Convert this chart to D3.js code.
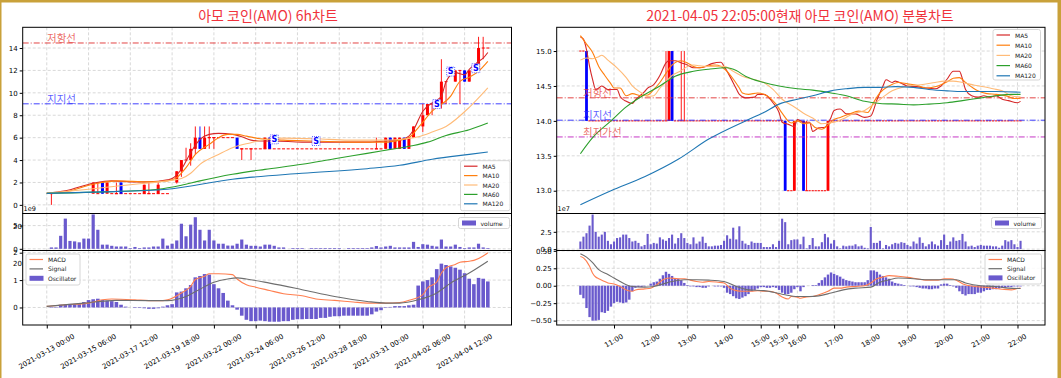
<!DOCTYPE html>
<html>
<head>
<meta charset="utf-8">
<script src="https://cdn.jsdelivr.net/npm/d3@7"></script>
<style>
body { margin: 0; background: #fff; }
svg { display: block; font-family: "DejaVu Sans", sans-serif; }
</style>
</head>
<body>
<svg id="chart" width="1061" height="378"></svg>
<script>
// ---------- left chart (6h candles, index 0 = 2021-03-13 00:00) ----------
const lTickIdx = [0, 9, 18, 27, 36, 45, 54, 63, 72, 81, 90];
const lTickLabels = ['2021-03-13 00:00','2021-03-15 06:00','2021-03-17 12:00','2021-03-19 18:00','2021-03-22 00:00',
  '2021-03-24 06:00','2021-03-26 12:00','2021-03-28 18:00','2021-03-31 00:00','2021-04-02 06:00','2021-04-04 12:00'];

const lcIdx   = [1,10,11,12,13,15,16,21,22,24,28,29,30,31,32,33,34,35,36,41,42,44,47,48,71,73,74,75,76,77,78,79,81,82,83,85,86,88,89,90,91,93,94,95];
const lcOpen  = [1,1,1,2,1,1,2,1,1,1,2,3,4,4,5,6,5,6,6,6,5,5,5,6,5,5,6,5,5,6,5,6,7,8,9,9,11,11,12,12,11,12,14,14];
const lcClose = [1,2,1,1,2,1,1,1.8,1,1.8,3,4,4,5,6,5,6,6,6,5,5,5,6,5,5,6,5,6,6,5,6,7,8,9,9,11,11,12,12,11,12,14,14,14];
const lcHigh  = [1,2,2,2,2,2,2,1.8,2,2,3,4,5.1,5.5,7,7,7,7,6,6,5,5,6,6,6,6,6,6,6,6,6,7,9,9,9,13,11,12,12,12,12,15,15,14];
const lcLow   = [0,1,1,1,1,1,1,1,1,1,1.9,2.5,4,3.5,4.5,5,5,5,5,5,4,4,5,5,5,5,5,5,5,5,5,6,6.5,8,8,8.6,9,11,9,11,11,12,13,14];
// runs of flat (open == close) candles: [first index, last index, price]
const lFlatRuns = [[14, 26, 1], [35, 40, 6], [42, 72, 5]];
const lSignals = [[49, 5.85], [58, 5.7], [84, 9.0], [87, 11.9], [92.4, 12.2]];

const lMA5   = [[0,1.04],[4,1.25],[10,1.93],[14,2.14],[19,2.05],[22,2.05],[26,2.23],[27,2.35],[29,3.18],[31,4.66],[33,5.85],[35,6.29],[37,6.38],[40,6.29],[42,6.08],[44,5.78],[46,5.7],[49,5.7],[55,5.6],[62,5.6],[69,5.6],[73,5.7],[76,5.78],[78,6.14],[79,6.7],[81,8.36],[83,9.1],[85,9.7],[86,11.0],[88,11.8],[90,11.6],[91,12.1],[93,12.8],[94,13.1],[95,13.6]];
const lMA10  = [[0,1.04],[4,1.16],[10,1.84],[15,2.14],[22,2.05],[26,2.14],[28,2.43],[30,3.32],[32,4.51],[35,5.4],[37,6.0],[39,6.29],[41,6.29],[43,6.14],[46,5.9],[51,5.78],[58,5.7],[65,5.6],[73,5.6],[76,5.78],[78,6.0],[80,6.88],[83,8.36],[87,9.7],[89,11.03],[91,11.4],[93,11.92],[95,12.8]];
const lMA20  = [[0,1.04],[9,1.4],[19,1.84],[26,2.14],[29,2.35],[31,2.82],[33,3.62],[37,4.5],[40,5.1],[44,5.55],[47,5.84],[51,5.96],[58,5.9],[65,5.78],[73,5.78],[76,5.84],[80,6.08],[83,6.5],[86,7.0],[91,8.7],[95,10.44]];
const lMA60  = [[0,1.03],[12,1.16],[24,1.4],[29,1.75],[33,2.14],[40,2.73],[47,3.17],[55,3.62],[62,4.12],[69,4.6],[74,4.95],[79,5.3],[82,5.6],[86,6.2],[91,6.7],[95,7.3]];
const lMA120 = [[0,1.03],[12,1.16],[26,1.4],[40,2.29],[55,2.82],[69,3.23],[76,3.53],[83,4.07],[91,4.51],[95,4.72]];

// volume, 1e9 units, one value per candle 0..95
const lVolume = [0,0.3,0.3,2.8,6.5,1.7,1.6,1.4,2.2,2.2,7.4,4.1,0.9,0.9,0.65,0.5,0.5,0.5,0.15,0.4,0.15,0.3,0.3,0.5,0.5,2.2,0.7,1.1,1.8,5.4,2.7,5.2,6.8,4.1,1.8,4.1,1.8,1.1,1.1,0.7,0.7,1.1,2.0,0.9,0.65,0.65,0.5,0.9,0.9,0.65,0.3,0.3,0,0.15,0.15,0.15,0,0.15,0.15,0.15,0.15,0.15,0.15,0.15,0,0.15,0.15,0.15,0.15,0.15,0.3,0.6,0.3,0.5,0.65,0.3,0.3,0.3,0.3,1.5,0.4,1.0,0.9,0.65,0.5,2.0,0.5,0.5,0.9,0.4,0.15,0.3,0.3,1.1,0.3,0.15];
// MACD oscillator, one value per candle 0..95
const lOsc = [0,0.02,0.02,0.1,0.1,0.13,0.13,0.16,0.2,0.27,0.3,0.32,0.27,0.25,0.23,0.2,0.1,0.03,0,-0.02,-0.02,-0.03,-0.05,-0.05,-0.03,0.03,0.08,0.12,0.55,0.58,0.7,0.82,1.1,1.15,1.22,1.2,0.85,0.7,0.53,0.25,0.08,-0.08,-0.3,-0.45,-0.5,-0.5,-0.48,-0.5,-0.52,-0.52,-0.52,-0.5,-0.5,-0.45,-0.43,-0.43,-0.42,-0.42,-0.42,-0.38,-0.38,-0.34,-0.32,-0.32,-0.3,-0.3,-0.3,-0.3,-0.3,-0.3,-0.25,-0.15,-0.1,-0.02,0.02,0.05,0.05,0.05,0.08,0.1,0.8,0.95,1.0,1.1,1.4,1.6,1.55,1.5,1.45,1.38,1.25,1.05,0.85,1.08,1.05,0.95];
const lMacd   = [[0,0.04],[4,0.1],[9,0.16],[12,0.28],[14,0.31],[19,0.28],[22,0.25],[25,0.25],[26,0.28],[27,0.34],[29,0.53],[31,0.77],[32,1.02],[34,1.14],[35,1.23],[37,1.23],[40,1.2],[41,1.04],[43,0.83],[45,0.74],[48,0.62],[51,0.5],[55,0.43],[58,0.31],[62,0.26],[66,0.2],[69,0.16],[73,0.16],[76,0.18],[78,0.26],[81,0.47],[82,0.71],[84,0.93],[85,1.26],[86,1.45],[88,1.57],[89,1.65],[91,1.69],[92,1.72],[94,1.88],[95,2.0]];
const lSignal = [[0,0.04],[8,0.16],[15,0.26],[22,0.25],[26,0.25],[30,0.4],[33,0.67],[36,0.92],[39,1.04],[41,1.08],[43,1.04],[48,0.89],[55,0.65],[62,0.4],[69,0.22],[73,0.16],[76,0.16],[80,0.28],[84,0.53],[87,0.89],[91,1.26],[95,1.69]];
const lResist = 14.45, lSupport = 9.02;

// ---------- right chart (5 min candles, index 0 = 10:05) ----------
const rTickIdx = [11, 23, 35, 47, 59, 65, 71, 83, 95, 107, 119, 131, 143];
const rTickLabels = ['11:00','12:00','13:00','14:00','15:00','15:30','16:00','17:00','18:00','19:00','20:00','21:00','22:00'];

const rcIdx   = [2, 28, 29, 30, 33, 34, 67, 70, 73, 74, 81];
const rcOpen  = [15, 14, 14, 15, 14, 14, 14, 13, 14, 13, 13];
const rcClose = [14, 14, 15, 14, 14, 14, 13, 14, 13, 13, 14];
const rcHigh  = [15, 15, 15, 15, 15, 15, 14, 14, 14, 14, 14];
const rcLow   = [14, 14, 14, 14, 14, 14, 13, 13, 13, 13, 13];
const rFlatRuns = [[0, 1, 15], [3, 27, 14], [31, 32, 14], [35, 66, 14], [68, 69, 13], [71, 72, 14], [75, 80, 13], [82, 144, 14]];

const rMA5   = [[0,15.2],[1,15.17],[2,15.02],[3,14.78],[4,14.59],[5,14.45],[6,14.47],[7,14.5],[9,14.45],[12,14.45],[13,14.35],[15,14.28],[17,14.25],[18,14.3],[21,14.42],[22,14.47],[24,14.52],[26,14.65],[28,14.83],[29,14.86],[31,14.86],[33,14.83],[35,14.8],[37,14.76],[39,14.76],[41,14.78],[43,14.82],[46,14.84],[47,14.78],[49,14.63],[51,14.46],[52,14.38],[54,14.33],[57,14.34],[58,14.38],[60,14.38],[61,14.36],[63,14.26],[65,14.12],[66,13.98],[68,13.95],[70,13.92],[71,14.02],[73,13.98],[75,13.98],[76,13.85],[78,13.9],[80,13.91],[82,14.05],[83,14.15],[85,14.17],[87,14.1],[90,14.1],[93,14.05],[95,14.07],[97,14.3],[99,14.5],[100,14.59],[102,14.55],[103,14.57],[107,14.5],[110,14.49],[113,14.47],[116,14.46],[118,14.5],[120,14.6],[122,14.71],[124,14.71],[125,14.6],[126,14.45],[128,14.36],[130,14.34],[132,14.36],[134,14.34],[136,14.36],[138,14.31],[140,14.29],[143,14.26],[144,14.28]];
const rMA10  = [[0,15.22],[2,15.1],[4,14.98],[6,14.78],[8,14.65],[10,14.53],[11,14.47],[13,14.47],[15,14.36],[17,14.39],[20,14.36],[22,14.37],[24,14.45],[26,14.55],[28,14.68],[30,14.8],[33,14.86],[35,14.83],[37,14.78],[39,14.76],[41,14.78],[44,14.8],[46,14.78],[48,14.71],[50,14.6],[52,14.47],[53,14.4],[55,14.38],[58,14.4],[60,14.38],[62,14.33],[64,14.24],[66,14.11],[69,13.97],[71,14.0],[73,13.96],[75,13.97],[77,13.9],[79,13.88],[81,13.94],[83,14.02],[85,14.05],[88,14.1],[91,14.14],[94,14.12],[96,14.27],[98,14.4],[101,14.5],[104,14.55],[107,14.53],[110,14.51],[113,14.47],[117,14.5],[120,14.56],[122,14.61],[124,14.62],[126,14.55],[130,14.43],[133,14.39],[136,14.38],[140,14.35],[142,14.32],[144,14.32]];
const rMA20  = [[0,14.87],[2,14.9],[4,14.89],[6,14.92],[7,14.94],[9,14.87],[12,14.76],[15,14.62],[17,14.5],[20,14.4],[22,14.35],[24,14.36],[26,14.47],[28,14.56],[30,14.65],[33,14.72],[35,14.78],[37,14.8],[39,14.79],[41,14.78],[45,14.78],[47,14.78],[50,14.71],[53,14.64],[57,14.59],[60,14.55],[63,14.45],[66,14.31],[70,14.2],[73,14.11],[76,14.04],[79,13.96],[83,13.98],[86,14.03],[89,14.1],[93,14.15],[96,14.24],[99,14.34],[102,14.43],[106,14.49],[109,14.51],[112,14.52],[116,14.55],[119,14.57],[122,14.57],[125,14.55],[129,14.51],[132,14.49],[135,14.46],[138,14.43],[141,14.36],[144,14.34]];
const rMA60  = [[0,13.53],[4,13.76],[10,14.0],[15,14.2],[20,14.35],[26,14.5],[31,14.64],[37,14.71],[42,14.74],[48,14.76],[51,14.72],[54,14.64],[60,14.55],[65,14.5],[71,14.46],[76,14.44],[82,14.4],[87,14.36],[93,14.28],[98,14.25],[104,14.24],[109,14.23],[114,14.24],[120,14.26],[125,14.29],[131,14.33],[136,14.36],[141,14.38],[144,14.38]];
const rMA120 = [[0,12.8],[10,13.0],[21,13.2],[32,13.45],[42,13.74],[54,14.0],[60,14.12],[65,14.24],[71,14.31],[76,14.36],[82,14.43],[87,14.46],[93,14.48],[98,14.48],[103,14.49],[109,14.48],[114,14.45],[120,14.43],[125,14.42],[131,14.42],[136,14.42],[144,14.41]];

// volume, 1e7 units, one value per 5 min bar 0..144
const rVolume = [1.1,1.8,2.3,3.4,5.0,2.5,1.8,2.1,2.5,1.2,0.7,1.1,1.6,1.7,2.1,2.1,1.6,1.1,1.2,0.9,0.4,0.6,2.2,0.7,0.9,0.8,1.7,1.4,1.2,1.6,2.1,0.8,1.6,2.3,1.6,0.9,0.7,1.7,0.8,1.1,1.8,0.9,0.4,0.4,0.5,0.5,0.6,1.2,2.0,1.5,3.1,1.4,3.3,1.2,0.8,0.6,1.1,0.9,0.9,0.9,0.3,0.3,0.3,0.7,0.3,1.2,4.4,3.9,0.7,1.3,1.4,1.4,0.7,1.8,0.1,0.6,1.6,0.4,0.4,1.0,2.2,1.7,0.8,1.3,0.4,0.1,0.5,0.4,0.5,0.5,0.7,0.4,0.5,0.2,0.1,3.2,0.9,0.9,1.2,0.1,0.6,0.4,0.7,0.9,0.8,1.0,0.9,0.6,0.4,1.1,0.8,1.7,0.9,0.4,0.7,1.1,0.7,0.5,1.3,2.1,0.6,1.1,1.7,1.2,1.3,2.2,1.1,0.4,0.5,0.3,0.5,0.6,0.5,0.5,0.5,0.4,0.4,0.2,0.5,1.3,1.1,1.3,0.7,0.3,1.2];
const rOsc = [-0.13,-0.18,-0.32,-0.45,-0.5,-0.5,-0.49,-0.38,-0.39,-0.36,-0.3,-0.25,-0.23,-0.24,-0.25,-0.24,-0.2,-0.08,-0.03,-0.02,-0.02,-0.01,0,0.03,0.05,0.06,0.1,0.15,0.2,0.17,0.14,0.1,0.1,0.08,0.04,0.01,-0.01,-0.01,-0.02,-0.02,-0.03,-0.03,-0.01,0,-0.01,-0.01,-0.01,-0.03,-0.1,-0.12,-0.15,-0.18,-0.19,-0.17,-0.15,-0.12,-0.08,-0.06,-0.04,-0.02,-0.02,-0.03,-0.03,-0.02,-0.03,-0.06,-0.1,-0.12,-0.12,-0.1,-0.05,-0.02,-0.08,-0.02,0,0,0.01,0.01,0.04,0.08,0.12,0.16,0.19,0.17,0.15,0.13,0.1,0.08,0.07,0.06,0.05,0.05,0.05,0.05,0.08,0.22,0.22,0.2,0.16,0.14,0.12,0.1,0.06,0.04,0.03,0.02,0.01,0,-0.01,-0.01,-0.02,-0.03,-0.04,-0.04,-0.05,-0.05,-0.04,-0.04,0.02,0.03,0.03,0.01,-0.01,-0.03,-0.08,-0.12,-0.14,-0.12,-0.12,-0.12,-0.1,-0.1,-0.08,-0.06,-0.06,-0.05,-0.05,-0.04,-0.03,-0.03,-0.02,-0.02,-0.01,-0.01,-0.01];
const rMacd   = [[0,0.42],[1,0.4],[3,0.28],[4,0.18],[5,0.125],[6,0.1],[8,0.06],[9,0.04],[11,0.025],[13,-0.01],[15,-0.06],[17,-0.08],[18,-0.06],[21,-0.045],[23,-0.035],[25,0.015],[27,0.085],[29,0.11],[32,0.1],[34,0.1],[36,0.08],[38,0.06],[40,0.05],[42,0.06],[45,0.05],[47,0.04],[49,-0.035],[51,-0.07],[53,-0.08],[56,-0.08],[58,-0.07],[60,-0.08],[62,-0.08],[64,-0.105],[66,-0.16],[68,-0.19],[69,-0.155],[71,-0.165],[72,-0.18],[74,-0.16],[76,-0.155],[78,-0.13],[81,-0.08],[83,-0.035],[85,-0.035],[87,-0.02],[90,-0.01],[93,0],[95,0.04],[97,0.1],[99,0.125],[101,0.145],[104,0.135],[107,0.12],[110,0.1],[113,0.08],[117,0.08],[119,0.1],[121,0.1],[123,0.08],[125,0.03],[129,-0.01],[132,-0.02],[135,-0.035],[138,-0.05],[141,-0.06],[143,-0.04],[144,-0.035]];
const rSignal = [[0,0.46],[2,0.41],[4,0.33],[6,0.23],[9,0.16],[11,0.11],[13,0.06],[15,0.015],[17,-0.01],[21,-0.02],[24,-0.01],[27,0.025],[30,0.06],[34,0.085],[38,0.085],[42,0.08],[47,0.06],[51,-0.01],[55,-0.06],[60,-0.07],[64,-0.1],[67,-0.13],[71,-0.155],[75,-0.155],[78,-0.145],[82,-0.105],[86,-0.06],[90,-0.035],[95,-0.02],[98,0.05],[101,0.085],[104,0.11],[109,0.1],[114,0.085],[119,0.085],[123,0.085],[126,0.04],[131,0],[136,-0.01],[140,-0.035],[144,-0.04]];
const rResist = 14.33, rSupport = 14.01, rLowest = 13.77;

// ---------- drawing ----------
const svg = d3.select('#chart');
const defs = svg.append('defs');
const RED = '#ff0000', BLUE = '#0000ff', VOL = '#6a5acd';
const MA_COLORS = ['#d62728', '#ff7f0e', '#ffbb78', '#2ca02c', '#1f77b4'];
const MA_NAMES = ['MA5', 'MA10', 'MA20', 'MA60', 'MA120'];
const KFONT = '"Noto Sans CJK KR", sans-serif';
let clipN = 0;

function panel(xr, yr, xDom, yDom) {
  const b = {x0: xr[0], x1: xr[1], y0: yr[0], y1: yr[1]};
  const x = d3.scaleLinear().domain(xDom).range([b.x0, b.x1]);
  const y = d3.scaleLinear().domain(yDom).range([b.y1, b.y0]);
  const id = 'clip' + (clipN++);
  defs.append('clipPath').attr('id', id).append('rect')
    .attr('x', b.x0).attr('y', b.y0).attr('width', b.x1 - b.x0).attr('height', b.y1 - b.y0);
  const g = svg.append('g');
  const plot = g.append('g').attr('clip-path', `url(#${id})`);
  return {b, x, y, g, plot};
}

function grid(p, xTicks, yTicks) {
  const gg = p.plot.append('g').attr('stroke', '#cfcfcf').attr('stroke-width', 0.8).attr('stroke-dasharray', '3,2');
  gg.selectAll('.gx').data(xTicks).join('line')
    .attr('x1', d => p.x(d)).attr('x2', d => p.x(d)).attr('y1', p.b.y0).attr('y2', p.b.y1);
  gg.selectAll('.gy').data(yTicks).join('line')
    .attr('x1', p.b.x0).attr('x2', p.b.x1).attr('y1', d => p.y(d)).attr('y2', d => p.y(d));
}

function frame(p) {
  p.g.append('rect').attr('x', p.b.x0).attr('y', p.b.y0)
    .attr('width', p.b.x1 - p.b.x0).attr('height', p.b.y1 - p.b.y0)
    .attr('fill', 'none').attr('stroke', '#000').attr('stroke-width', 1);
}

function yAxis(p, ticks, fmt) {
  p.g.append('g').attr('transform', `translate(${p.b.x0},0)`)
    .call(d3.axisLeft(p.y).tickValues(ticks).tickFormat(fmt).tickSize(3).tickPadding(2))
    .call(a => a.select('.domain').remove())
    .attr('font-family', '"DejaVu Sans", sans-serif').attr('font-size', 7);
}

function xAxis(p, idx, labels) {
  p.g.append('g').attr('transform', `translate(0,${p.b.y1})`)
    .call(d3.axisBottom(p.x).tickValues(idx).tickFormat('').tickSize(3.5))
    .call(a => a.select('.domain').remove());
  idx.forEach((d, k) => {
    const t = p.g.append('text').text(labels[k])
      .attr('font-size', 7).attr('text-anchor', 'middle').attr('dominant-baseline', 'central');
    const L = t.node().getComputedTextLength();
    const h = L * 0.5 + 7 * 0.866;
    t.attr('transform', `translate(${p.x(d)},${p.b.y1 + 8 + h / 2}) rotate(-30)`);
  });
}

function lineOf(p, pts, color, w) {
  p.plot.append('path').datum(pts)
    .attr('d', d3.line().x(d => p.x(d[0])).y(d => p.y(d[1])).curve(d3.curveMonotoneX))
    .attr('fill', 'none').attr('stroke', color).attr('stroke-width', w || 1.1);
}

function hline(p, v, color, label, labelColor, lx) {
  p.plot.append('line').attr('x1', p.b.x0).attr('x2', p.b.x1).attr('y1', p.y(v)).attr('y2', p.y(v))
    .attr('stroke', color).attr('stroke-width', 0.9).attr('stroke-dasharray', '6,2,1,2');
  p.g.append('text').attr('x', lx).attr('y', p.y(v) - 1).text(label)
    .attr('font-family', KFONT).attr('font-size', 10.5).attr('fill', labelColor).attr('fill-opacity', 0.75);
}

function candles(p, idx, o, c, h, l, bodyW) {
  const gc = p.plot.append('g');
  idx.forEach((d, k) => {
    const col = c[k] > o[k] ? RED : (c[k] < o[k] ? BLUE : RED);
    const cx = p.x(d);
    if (h[k] !== l[k]) {
      gc.append('line').attr('x1', cx).attr('x2', cx).attr('y1', p.y(h[k])).attr('y2', p.y(l[k]))
        .attr('stroke', col).attr('stroke-width', 0.9);
    }
    if (o[k] === c[k]) {
      gc.append('line').attr('x1', cx - bodyW / 2).attr('x2', cx + bodyW / 2)
        .attr('y1', p.y(o[k])).attr('y2', p.y(o[k])).attr('stroke', col).attr('stroke-width', 1);
    } else {
      const top = p.y(Math.max(o[k], c[k])), bot = p.y(Math.min(o[k], c[k]));
      gc.append('rect').attr('x', cx - bodyW / 2).attr('width', bodyW)
        .attr('y', top).attr('height', bot - top).attr('fill', col);
    }
  });
}

function flatRuns(p, runs, bodyW) {
  const gf = p.plot.append('g').attr('stroke', RED).attr('stroke-width', 1);
  runs.forEach(([a, b, v]) => {
    for (let i = a; i <= b; i++) {
      gf.append('line').attr('x1', p.x(i) - bodyW / 2).attr('x2', p.x(i) + bodyW / 2)
        .attr('y1', p.y(v)).attr('y2', p.y(v));
    }
  });
}

function bars(p, vals, color, w) {
  p.plot.selectAll(null).data(vals).join('rect')
    .attr('x', (d, i) => p.x(i) - w / 2).attr('width', w)
    .attr('y', d => p.y(Math.max(0, d))).attr('height', d => Math.abs(p.y(d) - p.y(0)))
    .attr('fill', color);
}

function legend(p, x, y, w, h, items, rowH) {
  const gl = p.g.append('g');
  gl.append('rect').attr('x', x).attr('y', y).attr('width', w).attr('height', h).attr('rx', 2)
    .attr('fill', '#fff').attr('fill-opacity', 0.85).attr('stroke', '#cccccc').attr('stroke-width', 0.8);
  items.forEach((it, k) => {
    const cy = y + 5.5 + k * rowH;
    if (it.patch) {
      gl.append('rect').attr('x', x + 3.5).attr('y', cy - 2.5).attr('width', 14).attr('height', 5).attr('fill', it.color);
    } else {
      gl.append('line').attr('x1', x + 3.5).attr('x2', x + 17).attr('y1', cy).attr('y2', cy)
        .attr('stroke', it.color).attr('stroke-width', 1.2);
    }
    gl.append('text').attr('x', x + 22).attr('y', cy).attr('dominant-baseline', 'central')
      .attr('font-size', 6).attr('fill', '#222').text(it.label);
  });
}

function signalMark(p, i, v) {
  const gm = p.plot.append('g').attr('transform', `translate(${p.x(i)},${p.y(v)})`);
  gm.append('rect').attr('x', -4).attr('y', -4.5).attr('width', 8).attr('height', 9)
    .attr('fill', '#fff').attr('stroke', BLUE).attr('stroke-width', 0.6).attr('stroke-dasharray', '1,1');
  gm.append('text').attr('text-anchor', 'middle').attr('dominant-baseline', 'central')
    .attr('font-size', 8).attr('font-weight', 'bold').attr('fill', BLUE).text('S');
}

const ROWS = {main: [27.3, 213.5], vol: [213.5, 250.5], macd: [250.5, 325]};
const maSets = (arrs) => arrs.map((a, k) => ({pts: a, color: MA_COLORS[k], label: MA_NAMES[k]}));

// ================= LEFT =================
{
  const xr = [22.7, 511.5], xd = [-5.18, 100.1];
  const m = panel(xr, ROWS.main, xd, [-0.77, 15.85]);
  grid(m, lTickIdx, d3.range(0, 15, 2));
  hline(m, lResist, '#e03030', '저항선', '#e53935', 47);
  hline(m, lSupport, '#2a2aff', '지지선', '#2a2aff', 47);
  flatRuns(m, lFlatRuns, 3);
  candles(m, lcIdx, lcOpen, lcClose, lcHigh, lcLow, 3);
  maSets([lMA5, lMA10, lMA20, lMA60, lMA120]).forEach(s => lineOf(m, s.pts, s.color, 1.1));
  lSignals.forEach(s => signalMark(m, s[0], s[1]));
  frame(m);
  yAxis(m, d3.range(0, 15, 2), d3.format('d'));
  legend(m, 460.5, 160.7, 49.5, 50, MA_NAMES.map((n, k) => ({label: n, color: MA_COLORS[k]})), 9.4);

  const v = panel(xr, ROWS.vol, xd, [-0.36, 7.6]);
  grid(v, lTickIdx, [0, 5]);
  bars(v, lVolume, VOL, 3.2);
  frame(v);
  yAxis(v, [0, 5], d3.format('d'));
  v.g.append('text').attr('x', 23.5).attr('y', 211).attr('font-size', 6.5).text('1e9');
  legend(v, 458.5, 217.5, 51, 11, [{label: 'volume', color: VOL, patch: true}], 9);

  const c = panel(xr, ROWS.macd, xd, [-0.64, 2.08]);
  grid(c, lTickIdx, [0, 1, 2]);
  bars(c, lOsc, VOL, 3.6);
  lineOf(c, lMacd, '#ff7f50', 1.1);
  lineOf(c, lSignal, '#6e6e6e', 1.1);
  frame(c);
  yAxis(c, [0, 1, 2], d3.format('d'));
  xAxis(c, lTickIdx, lTickLabels);
  legend(c, 26, 254, 54, 31, [{label: 'MACD', color: '#ff7f50'}, {label: 'Signal', color: '#6e6e6e'}, {label: 'Oscillator', color: VOL, patch: true}], 9.4);

  // stray "20" labels printed at the left margin of the lower panels
  svg.append('text').attr('x', 13).attr('y', 229).attr('font-size', 7).text('20');
  svg.append('text').attr('x', 13).attr('y', 266).attr('font-size', 7).text('20');

  svg.append('text').attr('x', 268).attr('y', 20.5).attr('text-anchor', 'middle')
    .attr('font-family', KFONT).attr('font-size', 14).attr('fill', '#f0323c').text('아모 코인(AMO) 6h차트');
}

// ================= RIGHT =================
{
  const xr = [556.7, 1045], xd = [-7.75, 152];
  const m = panel(xr, ROWS.main, xd, [12.674, 15.34]);
  const yt = [13.0, 13.5, 14.0, 14.5, 15.0];
  grid(m, rTickIdx, yt);
  flatRuns(m, rFlatRuns, 2.2);
  candles(m, rcIdx, rcOpen, rcClose, rcHigh, rcLow, 2.8);
  hline(m, rResist, '#e03030', '저항선', '#e53935', 583);
  hline(m, rSupport, '#2a2aff', '지지선', '#2a2aff', 583);
  hline(m, rLowest, '#c020c0', '최저가선', '#e53935', 583);
  maSets([rMA5, rMA10, rMA20, rMA60, rMA120]).forEach(s => lineOf(m, s.pts, s.color, 1.1));
  frame(m);
  yAxis(m, yt, d3.format('.1f'));
  legend(m, 993, 29.5, 47.5, 50.5, MA_NAMES.map((n, k) => ({label: n, color: MA_COLORS[k]})), 10.2);

  const v = panel(xr, ROWS.vol, xd, [-0.2, 5.15]);
  grid(v, rTickIdx, [0, 2.5]);
  bars(v, rVolume, VOL, 2.1);
  frame(v);
  yAxis(v, [0, 2.5], d3.format('.1f'));
  v.g.append('text').attr('x', 557.5).attr('y', 211).attr('font-size', 6.5).text('1e7');
  legend(v, 991.5, 217.5, 50, 11, [{label: 'volume', color: VOL, patch: true}], 9);

  const c = panel(xr, ROWS.macd, xd, [-0.563, 0.505]);
  const ct = [-0.5, -0.25, 0, 0.25, 0.5];
  grid(c, rTickIdx, ct);
  bars(c, rOsc, VOL, 2.4);
  lineOf(c, rMacd, '#ff7f50', 1.1);
  lineOf(c, rSignal, '#6e6e6e', 1.1);
  frame(c);
  yAxis(c, ct, d => d3.format('.2f')(d).replace('-', '\u2212'));
  xAxis(c, rTickIdx, rTickLabels);
  legend(c, 985, 254, 56.5, 30, [{label: 'MACD', color: '#ff7f50'}, {label: 'Signal', color: '#6e6e6e'}, {label: 'Oscillator', color: VOL, patch: true}], 9.2);

  svg.append('text').attr('x', 800).attr('y', 20.5).attr('text-anchor', 'middle')
    .attr('font-family', KFONT).attr('font-size', 14).attr('fill', '#f0323c')
    .text('2021-04-05 22:05:00현재 아모 코인(AMO) 분봉차트');
}

// gold picture border: heavier on top and right, thin on the left
const gold = svg.append('g').attr('fill', '#c9a13a');
gold.append('rect').attr('x', 0).attr('y', 0).attr('width', 1061).attr('height', 2.5);
gold.append('rect').attr('x', 0).attr('y', 0).attr('width', 1.5).attr('height', 378);
gold.append('rect').attr('x', 1057.5).attr('y', 0).attr('width', 3.5).attr('height', 378);
</script>
</body>
</html>
